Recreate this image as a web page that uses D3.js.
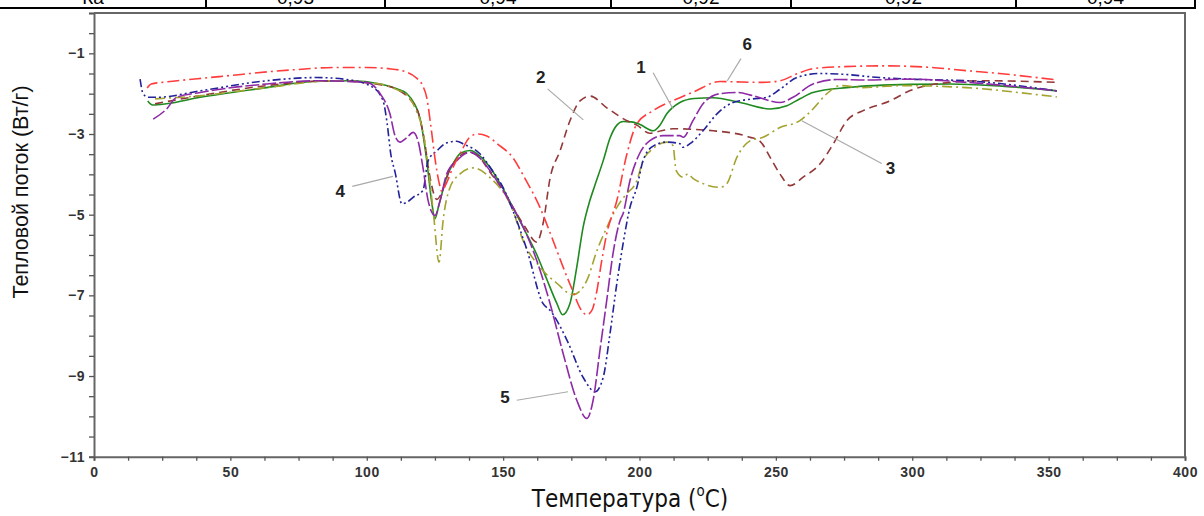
<!DOCTYPE html>
<html><head><meta charset="utf-8">
<script src="https://cdn.jsdelivr.net/npm/d3@7"></script>
<style>
html,body{margin:0;padding:0;background:#fff;overflow:hidden}
svg{display:block}
</style></head>
<body>
<svg id="chart" width="1204" height="516"></svg>
<script>
// ---- Data (temperature °C, heat flow W/g) ----
const tableHeader = "Ка";
const tableValues = ["0,93", "0,94", "0,92", "0,92", "0,94"];

const xTicksMajor = [0, 50, 100, 150, 200, 250, 300, 350, 400];
const yTicksMajor = [-1, -3, -5, -7, -9, -11];

const curve1 = [[19.7,-2.18],[21.5,-2.28],[26.6,-2.25],[38.9,-2.09],[63.3,-1.85],[80,-1.7],[94,-1.68],[105,-1.76],[111,-1.88],[114.7,-2.0],[117.5,-2.25],[119.5,-2.6],[122,-3.66],[123.9,-4.73],[125,-5.1],[126.5,-4.75],[129.3,-4.07],[131.6,-3.74],[134.5,-3.47],[137.9,-3.41],[141.5,-3.55],[145.2,-3.83],[149.5,-4.3],[153.6,-4.82],[158,-5.4],[162.4,-6.0],[166,-6.6],[169.7,-7.2],[171.8,-7.48],[174.5,-7.2],[177,-6.3],[179.3,-5.32],[181.8,-4.65],[183.5,-4.3],[186.7,-3.66],[189.2,-3.1],[191.7,-2.78],[194,-2.69],[197,-2.7],[200,-2.76],[205,-2.92],[207.5,-2.78],[210,-2.5],[214.8,-2.22],[220,-2.12],[227,-2.1],[236.9,-2.22],[247.9,-2.38],[254,-2.3],[259,-2.12],[263.6,-1.97],[276,-1.85],[299,-1.77],[314,-1.76],[330,-1.8],[353,-1.93]];

const curve2 = [[22.4,-2.25],[38.9,-2.05],[63.3,-1.8],[87.8,-1.68],[105,-1.78],[112,-1.93],[116,-2.15],[119,-2.5],[121,-3.1],[123,-4.0],[125.7,-4.62],[127.5,-4.45],[130,-3.95],[133,-3.62],[136.7,-3.46],[140,-3.5],[145.2,-3.95],[150,-4.4],[153.6,-4.82],[158,-5.3],[162.3,-5.68],[164.7,-5.2],[167.2,-4.1],[170.9,-3.41],[174.5,-2.67],[178.2,-2.18],[181.9,-2.06],[188,-2.35],[195.4,-2.67],[199,-2.78],[203.8,-2.98],[208,-2.92],[212.3,-2.87],[227,-2.92],[240.5,-3.08],[244.2,-3.18],[247.9,-3.58],[251.5,-3.99],[255.2,-4.28],[260,-4.07],[266.2,-3.74],[271,-3.25],[276,-2.67],[282,-2.42],[291.8,-2.18],[299,-1.93],[311,-1.74],[326,-1.68],[353,-1.72]];

const curve3 = [[22.4,-2.13],[38.9,-2.05],[63.3,-1.85],[87.8,-1.68],[105,-1.76],[111,-1.9],[115,-2.05],[118,-2.4],[120.5,-2.9],[122.5,-3.8],[124.5,-5.0],[126.5,-6.18],[128,-5.14],[130.5,-4.33],[134.2,-3.99],[139,-3.84],[145.2,-4.08],[153.6,-4.9],[157.3,-5.64],[163.5,-6.3],[169.7,-6.7],[175.6,-6.98],[180.7,-6.63],[184.4,-5.89],[188,-5.32],[191.7,-4.82],[195,-4.5],[199,-4.16],[201.3,-3.66],[205,-3.36],[210,-3.2],[212.3,-3.29],[213.4,-3.9],[216,-4.07],[217.8,-3.99],[219.6,-4.1],[223.3,-4.23],[229.5,-4.32],[232,-4.23],[235.7,-3.58],[240.5,-3.17],[245.3,-3.08],[251.5,-2.84],[258.8,-2.67],[263.6,-2.38],[268.7,-2.0],[273.5,-1.8],[282,-1.85],[295.5,-1.8],[320,-1.85],[344,-2.01],[353,-2.08]];

const curve4 = [[16.9,-1.64],[18,-2.0],[20,-2.09],[23,-2.09],[38.9,-1.93],[63.3,-1.68],[81.7,-1.6],[93.9,-1.66],[102.4,-1.85],[106,-2.18],[107.5,-2.75],[108.8,-3.49],[110.4,-3.95],[112.9,-4.73],[115,-4.68],[117,-4.57],[120.6,-4.4],[122.5,-3.66],[125.8,-3.41],[129.3,-3.22],[133,-3.18],[135.5,-3.25],[141.5,-3.49],[146,-3.9],[150,-4.33],[153.6,-4.9],[158.8,-5.89],[164.6,-7.2],[167.2,-7.37],[173.4,-8.11],[179.3,-9.03],[183.7,-9.39],[186.7,-9.03],[189.2,-7.94],[191.7,-6.7],[194,-5.71],[196.5,-4.82],[199,-4.33],[201.3,-3.66],[205,-3.3],[210,-3.2],[214.8,-3.24],[216,-3.33],[218.5,-3.24],[223.3,-2.92],[228.4,-2.5],[234.3,-2.22],[241.6,-2.13],[246.7,-2.09],[251.5,-1.89],[257.7,-1.6],[266.2,-1.5],[274.6,-1.52],[288,-1.6],[299,-1.64],[320,-1.68],[353,-1.93]];

const curve5 = [[21.7,-2.63],[26.6,-2.38],[30.3,-2.09],[38.9,-1.97],[63.3,-1.76],[81.7,-1.68],[100,-1.72],[104.9,-2.0],[108.5,-2.5],[110.4,-3.05],[112.2,-3.2],[114.7,-3.09],[117,-2.96],[118.8,-3.17],[120.6,-3.83],[122.5,-4.65],[125,-5.02],[126.9,-4.65],[129.3,-3.99],[133,-3.66],[137.9,-3.45],[141.5,-3.6],[145.2,-3.91],[153.6,-4.82],[156.2,-5.14],[162.3,-6.13],[167.2,-7.2],[172,-8.44],[177,-9.6],[180.7,-10.05],[183,-9.6],[185.5,-8.36],[188,-7.12],[190.3,-5.96],[192.9,-5.14],[194,-4.97],[196.5,-4.16],[200,-3.49],[203.7,-3.17],[208.6,-3.04],[214.8,-3.04],[216,-3.08],[219.6,-2.67],[223.3,-2.25],[229.5,-2.0],[235.7,-1.97],[241.6,-2.05],[251.5,-2.22],[256.3,-2.09],[263.6,-1.76],[272.4,-1.65],[283.4,-1.66],[299,-1.64],[320,-1.72],[353,-1.93]];

const curve6 = [[19.5,-1.86],[21,-1.76],[25,-1.72],[38,-1.63],[50,-1.55],[65,-1.45],[75,-1.4],[88,-1.35],[100,-1.35],[108,-1.38],[114,-1.45],[118,-1.6],[120.5,-1.8],[122,-2.1],[123.5,-2.8],[125,-3.6],[126.5,-4.2],[127.5,-4.42],[129,-4.25],[131.6,-3.83],[134.8,-3.41],[137.5,-3.1],[140.5,-3.0],[144,-3.05],[148,-3.25],[153.6,-3.59],[158,-4.1],[163.5,-4.82],[168.3,-5.64],[172,-6.3],[175.6,-6.9],[178.5,-7.35],[180.7,-7.48],[182.5,-7.38],[184.4,-6.88],[186,-6.2],[188,-5.47],[191.7,-4.65],[195.4,-3.49],[199,-2.75],[205,-2.42],[214.8,-2.1],[220,-1.95],[229.5,-1.7],[245,-1.72],[251.5,-1.68],[258,-1.5],[263.6,-1.38],[275,-1.33],[290,-1.31],[307,-1.35],[320,-1.43],[332,-1.5],[353,-1.66]];

const seriesNames = ["1", "2", "3", "4", "5", "6"];
const seriesData = [curve1, curve2, curve3, curve4, curve5, curve6];

// label text position and leader-line end (in data units)
const labelPos  = [[200.5,-1.38],[163.8,-1.62],[292,-3.88],[90.3,-4.45],[150.7,-9.55],[239.5,-0.8]];
const leaderFrom = [[205,-1.48],[166.3,-1.88],[288.8,-3.73],[94.7,-4.3],[155,-9.6],[237.2,-1.13]];
const leaderTo   = [[212.3,-2.38],[179.4,-2.65],[259.5,-2.67],[109.6,-4.05],[173.8,-9.39],[232.2,-1.68]];

// ---- Styles ----
const colors = ["#1f8a1f", "#933838", "#a3a330", "#22229a", "#8e2aa6", "#ff3c3c"];
const dashes = ["none", "8,5", "10,4,2,4", "8,3,2,3,2,3", "14,3", "12,4,2,4"];

const svg = d3.select("#chart");
const x = d3.scaleLinear().domain([0, 400]).range([94, 1185]);
const y = d3.scaleLinear().domain([0, -11]).range([13, 456.7]);

// ---- Table fragment at the top ----
const colEdges = [-20, 206, 385, 611, 791, 1016, 1195];
const tableTexts = [tableHeader].concat(tableValues);
const tg = svg.append("g");
tg.append("line").attr("x1", 0).attr("x2", 1196).attr("y1", 8).attr("y2", 8)
  .attr("stroke", "#000").attr("stroke-width", 2);
colEdges.slice(1).forEach(e => {
  tg.append("line").attr("x1", e).attr("x2", e).attr("y1", 0).attr("y2", 9)
    .attr("stroke", "#000").attr("stroke-width", 2);
});
tableTexts.forEach((t, i) => {
  tg.append("text").attr("x", (colEdges[i] + colEdges[i+1]) / 2).attr("y", 4)
    .attr("text-anchor", "middle").attr("font-family", "Liberation Sans, Arial, sans-serif")
    .attr("font-size", 19).attr("fill", "#000").text(t);
});

// ---- Frame ----
svg.append("path")
  .attr("d", `M${x(0)},${y(0)}H${x(400)}V${y(-11)}`)
  .attr("fill", "none").attr("stroke", "#666").attr("stroke-width", 2);

// ---- Axes ----
const yMinor = d3.range(0, -11.01, -0.5);
const yAxis = d3.axisLeft(y).tickValues(yMinor).tickSize(5)
  .tickFormat(d => yTicksMajor.includes(Math.round(d*2)/2) ? d3.format("d")(d) : "");
const gy = svg.append("g").attr("transform", `translate(${x(0)},0)`).call(yAxis);

const xMinor = d3.range(0, 400.01, 12.5);
const xAxis = d3.axisBottom(x).tickValues(xMinor).tickSize(4)
  .tickFormat(d => xTicksMajor.includes(d) ? d3.format("d")(d) : "");
const gx = svg.append("g").attr("transform", `translate(0,${y(-11)})`).call(xAxis);

[gx, gy].forEach(g => {
  g.select(".domain").attr("stroke", "#666").attr("stroke-width", 2);
  g.selectAll(".tick line").attr("stroke", "#555").attr("stroke-width", 1.3);
  g.selectAll(".tick text").attr("font-family", "Liberation Sans, Arial, sans-serif")
    .attr("font-size", 14).attr("font-weight", "bold").attr("fill", "#333")
    .attr("letter-spacing", "0.5px");
});
gx.selectAll(".tick text").attr("dy", "0.95em");
gy.selectAll(".tick text").attr("dx", "-1px");

// ---- Axis titles ----
const xt = svg.append("text").attr("x", 630).attr("y", 507).attr("text-anchor", "middle")
  .attr("font-family", "DejaVu Sans Condensed, Liberation Sans Narrow, sans-serif")
  .attr("font-stretch", "condensed").attr("font-size", 24).attr("fill", "#111");
xt.append("tspan").text("Температура (");
xt.append("tspan").attr("font-size", 15).attr("dy", -11).text("o");
xt.append("tspan").attr("dy", 11).text("C)");

svg.append("text").attr("transform", "translate(28,192) rotate(-90)")
  .attr("text-anchor", "middle").attr("font-family", "Liberation Sans, Arial, sans-serif")
  .attr("font-size", 21.5).attr("fill", "#111").text("Тепловой поток (Вт/г)");

// ---- Curves ----
const line = d3.line().x(d => x(d[0])).y(d => y(d[1])).curve(d3.curveMonotoneX);
const cg = svg.append("g");
seriesData.forEach((data, i) => {
  cg.append("path").datum(data).attr("d", line)
    .attr("fill", "none").attr("stroke", colors[i]).attr("stroke-width", 1.6)
    .attr("stroke-dasharray", dashes[i]).attr("stroke-linejoin", "round");
});

// ---- Curve labels with leader lines ----
const lg = svg.append("g");
seriesNames.forEach((n, i) => {
  lg.append("line")
    .attr("x1", x(leaderFrom[i][0])).attr("y1", y(leaderFrom[i][1]))
    .attr("x2", x(leaderTo[i][0])).attr("y2", y(leaderTo[i][1]))
    .attr("stroke", "#aaa").attr("stroke-width", 1.2);
  lg.append("text").attr("x", x(labelPos[i][0])).attr("y", y(labelPos[i][1]))
    .attr("text-anchor", "middle").attr("dominant-baseline", "middle")
    .attr("font-family", "Liberation Sans, Arial, sans-serif").attr("font-weight", "bold")
    .attr("font-size", 17).attr("fill", "#222").text(n);
});
</script>
</body></html>
